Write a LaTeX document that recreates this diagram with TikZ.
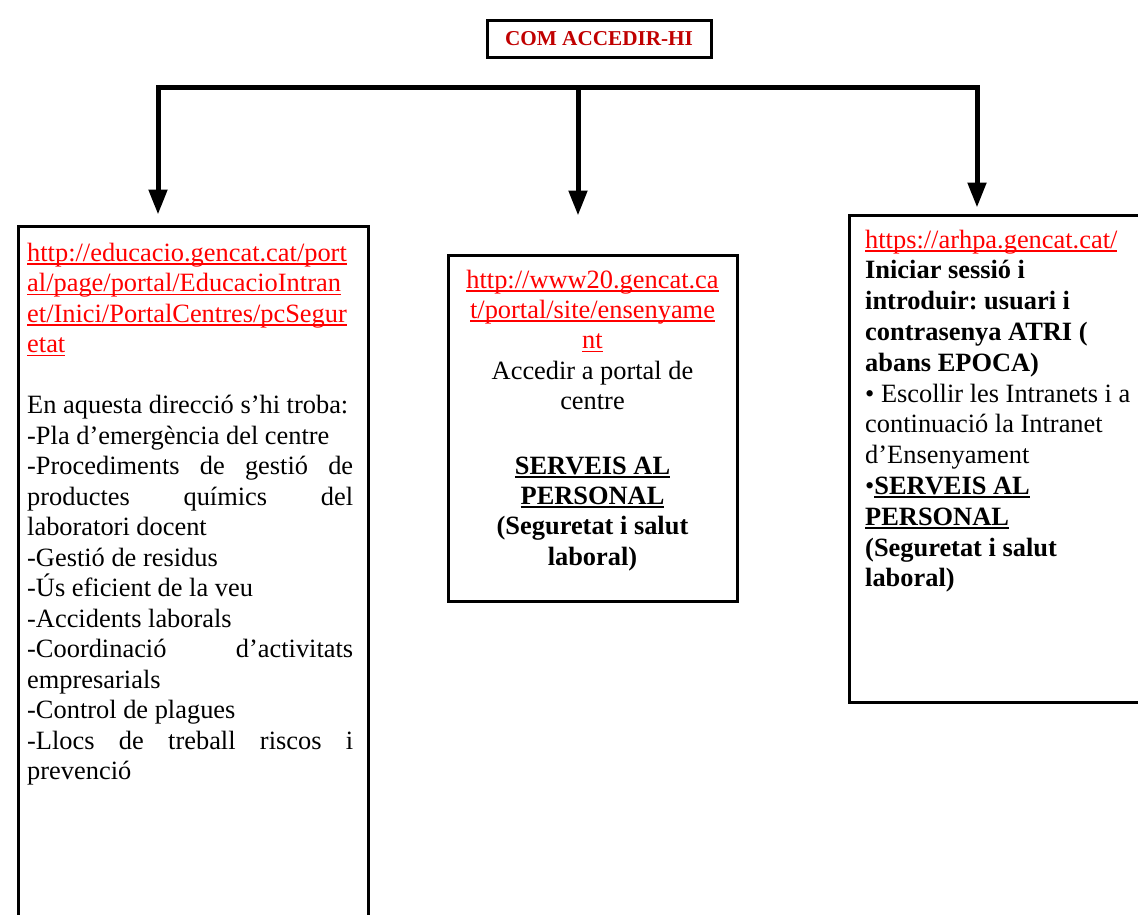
\documentclass[tikz,border=0pt]{standalone}
\usepackage{fontspec}
\setmainfont{Liberation Serif}
\usetikzlibrary{arrows.meta,positioning,calc}
\definecolor{urlred}{RGB}{255,0,0}
\definecolor{titlered}{RGB}{192,0,0}
\newcommand{\uln}[1]{\setbox0\hbox{#1}\rlap{\rule[-3.5pt]{\wd0}{1.5pt}}\box0}
\newcommand{\lnk}[1]{\textcolor{urlred}{\uln{#1}}}
\newcommand{\spread}[1]{\makebox[326pt][s]{#1}}
\frenchspacing

\begin{document}
\begin{tikzpicture}[x=1pt,y=-1pt,
  box/.style={draw,line width=3pt,outer sep=0pt,inner sep=0pt,anchor=north west},
  txt/.style={inner sep=0pt,font=\fontsize{26.4}{#1}\selectfont},
  txt/.default=30.5,
  link/.style={line width=5pt,line cap=rect},
  arr/.style={line width=5pt,-{Triangle[length=25pt,width=18pt]}}]
\useasboundingbox (0,0) rectangle (1138,914);
\clip (0,0) rectangle (1138,914);
% title
\node[draw,line width=3pt,minimum width=224pt,minimum height=37pt,text=titlered,font=\fontsize{21.2}{22}\selectfont\bfseries] (title) at (599,38.5) {COM ACCEDIR-HI};
% the three boxes
\node[box,minimum width=350pt,minimum height=700pt] (portal) at (18.5,226.5) {};
\node[box,minimum width=289pt,minimum height=346pt] (ensenyament) at (448.5,255.5) {};
\node[box,minimum width=300pt,minimum height=487pt] (arhpa) at (849.5,215.5) {};
\node[txt,anchor=base west,text width=340pt,align=flush left] (portaltxt) at (27,261) {%
  \lnk{http://educacio.gencat.cat/port}\\
  \lnk{al/page/portal/EducacioIntran}\\
  \lnk{et/Inici/PortalCentres/pcSegur}\\
  \lnk{etat}\\[30.5pt]
  En aquesta direcció s’hi troba:\\
  -Pla d’emergència del centre\\
  \spread{-Procediments de gestió de}\\
  \spread{productes químics del}\\
  laboratori docent\\
  -Gestió de residus\\
  -Ús eficient de la veu\\
  -Accidents laborals\\
  \spread{-Coordinació d’activitats}\\
  empresarials\\
  -Control de plagues\\
  \spread{-Llocs de treball riscos i}\\
  prevenció};
\node[txt=30.4,anchor=base,text width=280pt,align=flush center] (ensenyamenttxt) at (592.5,288) {%
  \lnk{http://www20.gencat.ca}\\
  \lnk{t/portal/site/ensenyame}\\
  \lnk{nt}\\
  Accedir a portal de\\
  centre\\[34pt]
  \textbf{\uln{SERVEIS AL}}\\
  \textbf{\uln{PERSONAL}}\\
  \textbf{(Seguretat i salut}\\
  \textbf{laboral)}};
\node[txt=30.8,anchor=base west,text width=290pt,align=flush left] (arhpatxt) at (865,248) {%
  \lnk{https://arhpa.gencat.cat/}\\
  \textbf{Iniciar sessió i}\\
  \textbf{introduir: usuari i}\\
  \textbf{contrasenya ATRI (}\\
  \textbf{abans EPOCA)}\\
  • Escollir les Intranets i a\\
  continuació la Intranet\\
  d’Ensenyament\\
  •\textbf{\uln{SERVEIS AL}}\\
  \textbf{\uln{PERSONAL}}\\
  \textbf{(Seguretat i salut}\\
  \textbf{laboral)}};
% bar and arrows
\coordinate (barL) at (158,87);
\coordinate (barM) at (578,87);
\coordinate (barR) at (977,87);
\draw[link] (barL) -- (barR);
\foreach \c/\b/\s in {barL/portal/12,barM/ensenyament/40,barR/arhpa/8}
  \draw[arr,shorten >=\s pt] (\c) -- (\c |- \b.north);
\end{tikzpicture}
\end{document}
